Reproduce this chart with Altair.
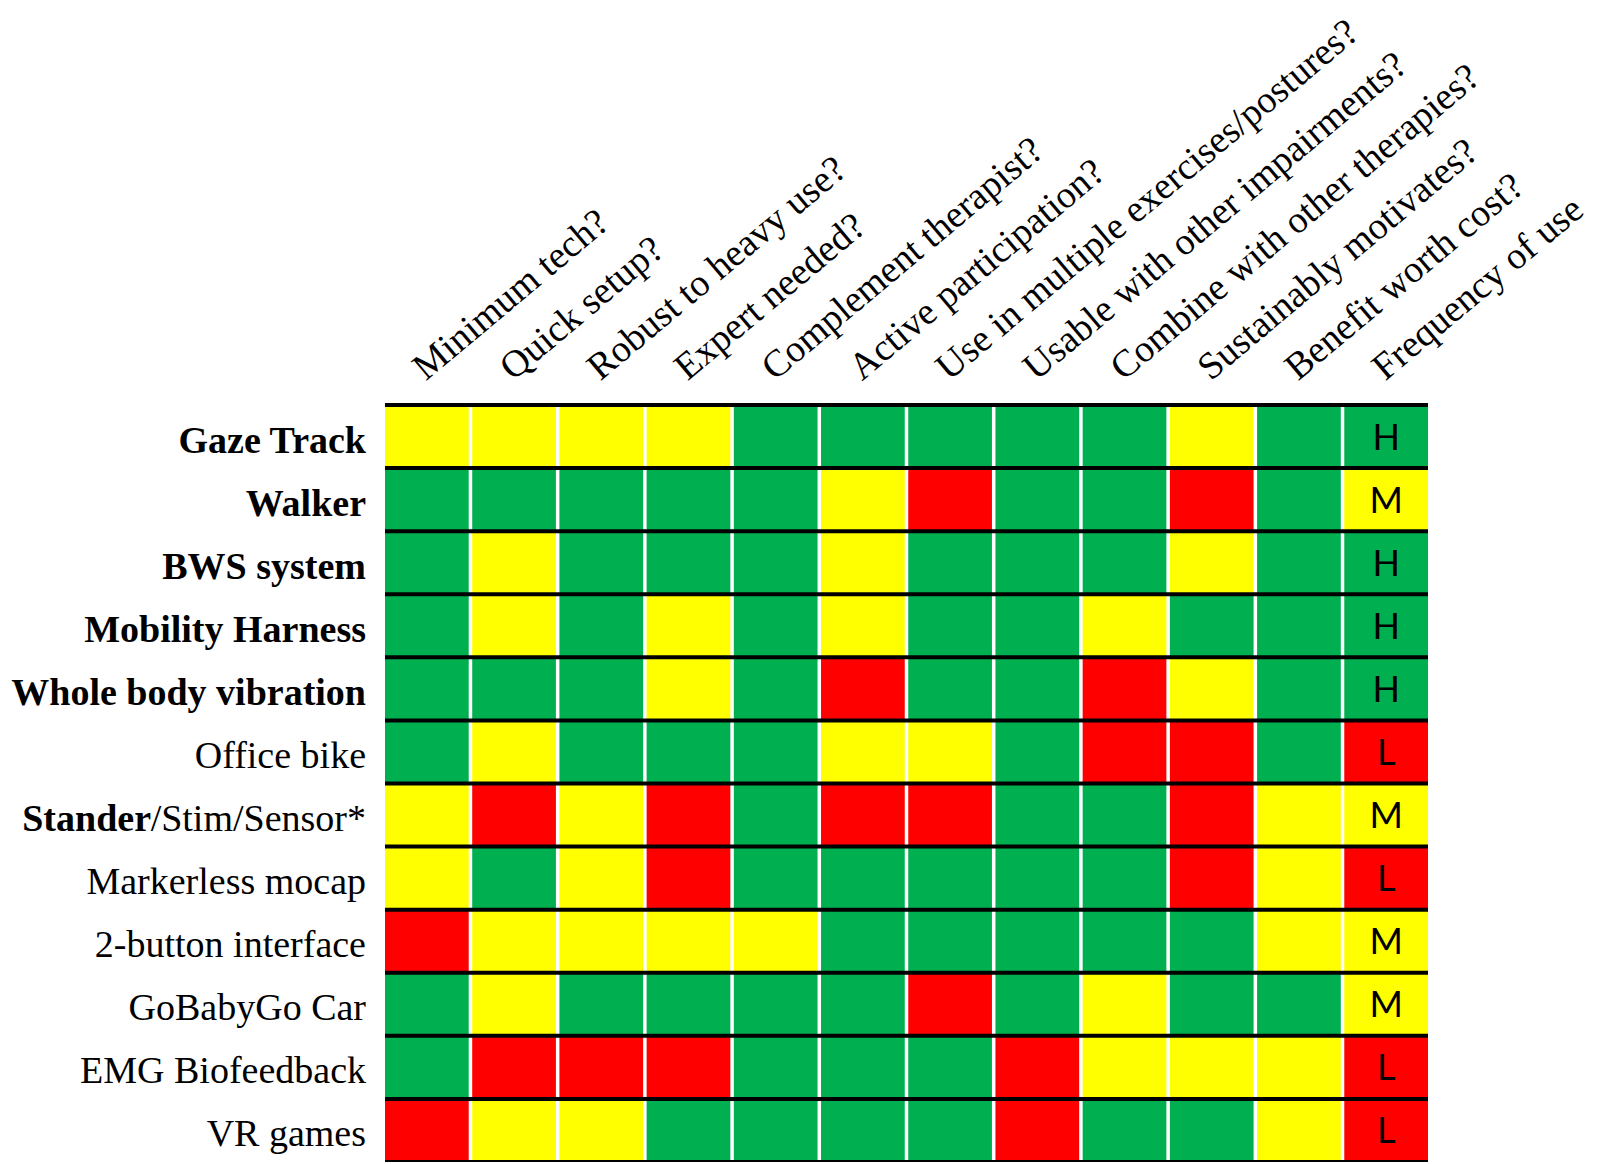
import altair as alt
import pandas as pd

rows = [
    "Gaze Track", "Walker", "BWS system", "Mobility Harness", "Whole body vibration",
    "Office bike", "Stander/Stim/Sensor*", "Markerless mocap", "2-button interface",
    "GoBabyGo Car", "EMG Biofeedback", "VR games",
]
bold_rows = ["Gaze Track", "Walker", "BWS system", "Mobility Harness", "Whole body vibration"]
cols = [
    "Minimum tech?", "Quick setup?", "Robust to heavy use?", "Expert needed?",
    "Complement therapist?", "Active participation?", "Use in multiple exercises/postures?",
    "Usable with other impairments?", "Combine with other therapies?",
    "Sustainably motivates?", "Benefit worth cost?", "Frequency of use",
]
# G = green, Y = yellow, R = red
grid = [
    "YYYYGGGGGYGG",
    "GGGGGYRGGRGY",
    "GYGGGYGGGYGG",
    "GYGYGYGGYGGG",
    "GGGYGRGGRYGG",
    "GYGGGYYGRRGR",
    "YRYRGRRGGRYY",
    "YGYRGGGGGRYR",
    "RYYYYGGGGGYY",
    "GYGGGGRGYGGY",
    "GRRRGGGRYYYR",
    "RYYGGGGRGGYR",
]
freq = ["H", "M", "H", "H", "H", "L", "M", "L", "M", "M", "L", "L"]

records = []
for r, line in zip(rows, grid):
    for c, s in zip(cols, line):
        records.append({"row": r, "col": c, "status": s})
df = pd.DataFrame(records)

freq_df = pd.DataFrame({"row": rows, "col": cols[-1], "freq": freq})
lab_df = pd.DataFrame({
    "row": rows,
    "label": ["/Stim/Sensor*" if r.startswith("Stander") else r for r in rows],
    "bold": [r in bold_rows for r in rows],
})
stander_df = pd.DataFrame({"row": ["Stander/Stim/Sensor*"], "label": ["Stander"]})

FS = 38

xenc = alt.X(
    "col:N", sort=cols,
    scale=alt.Scale(paddingInner=0.04, paddingOuter=0),
    axis=alt.Axis(
        orient="top", title=None, domain=False, ticks=False,
        labelAngle=320, labelAlign="left", labelBaseline="alphabetic",
        labelFont="Liberation Serif", labelFontSize=FS, labelColor="black",
        labelPadding=24, labelOffset=-1, labelLimit=2000, labelOverlap=False,
        labelBound=False,
    ),
)
yenc = alt.Y("row:N", sort=rows, scale=alt.Scale(paddingInner=0, paddingOuter=0), axis=None)

rects = alt.Chart(df).mark_rect().encode(
    x=xenc,
    y=yenc,
    color=alt.Color(
        "status:N",
        scale=alt.Scale(domain=["G", "Y", "R"], range=["#00B050", "#FFFF00", "#FF0000"]),
        legend=None,
    ),
)

rules_top = alt.Chart(pd.DataFrame({"row": rows})).mark_rule(color="black", strokeWidth=4).encode(
    y=alt.Y("row:N", sort=rows, bandPosition=0, axis=None)
)
rules_bottom = alt.Chart(pd.DataFrame({"row": rows[-1:]})).mark_rule(color="black", strokeWidth=4).encode(
    y=alt.Y("row:N", sort=rows, bandPosition=1, axis=None)
)

freq_text = alt.Chart(freq_df).mark_text(
    font="Lato", fontSize=36, baseline="alphabetic", dy=13, color="black"
).encode(
    x=alt.X("col:N", sort=cols),
    y=alt.Y("row:N", sort=rows),
    text="freq:N",
)

lab_bold = alt.Chart(lab_df[lab_df["bold"]]).mark_text(
    font="Liberation Serif", fontSize=FS, fontWeight="bold", align="right",
    baseline="alphabetic", dx=-19, dy=16, color="black",
).encode(y=alt.Y("row:N", sort=rows), x=alt.value(0), text="label:N")

lab_norm = alt.Chart(lab_df[~lab_df["bold"]]).mark_text(
    font="Liberation Serif", fontSize=FS, align="right",
    baseline="alphabetic", dx=-19, dy=16, color="black",
).encode(y=alt.Y("row:N", sort=rows), x=alt.value(0), text="label:N")

lab_stander = alt.Chart(stander_df).mark_text(
    font="Liberation Serif", fontSize=FS, fontWeight="bold", align="right",
    baseline="alphabetic", dx=-19 - 215, dy=16, color="black",
).encode(y=alt.Y("row:N", sort=rows), x=alt.value(0), text="label:N")

chart = alt.layer(
    rects, rules_top, rules_bottom, freq_text, lab_bold, lab_norm, lab_stander
).properties(
    width=1043, height=757,
    autosize=alt.AutoSizeParams(type="none"),
    padding={"left": 377, "top": 397, "right": 164, "bottom": 0},
    background="white",
).configure_view(stroke=None)

chart.save("out.html", embed_options={"renderer": "svg", "actions": False})
